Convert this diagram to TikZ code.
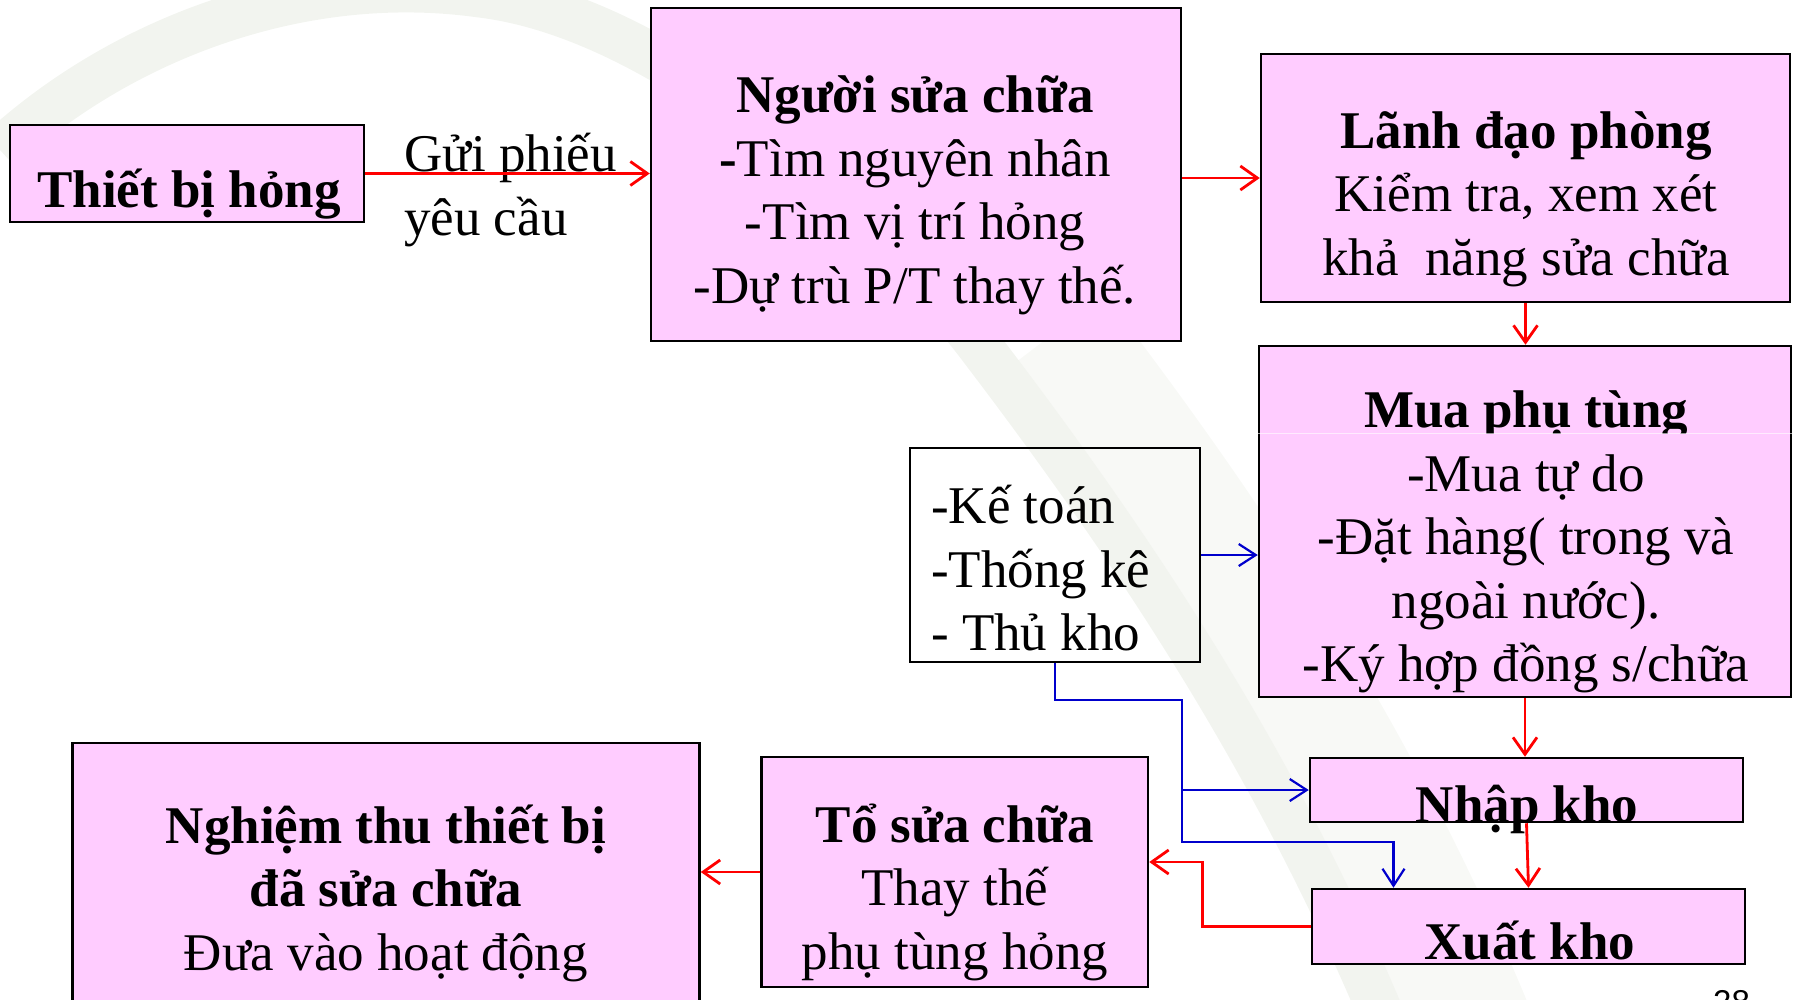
\documentclass[tikz,border=0pt]{standalone}
\usepackage{fontspec}
\setmainfont{Liberation Serif}
\newfontfamily\slidenum{Liberation Sans}
\usetikzlibrary{arrows.meta}

\definecolor{boxpink}{RGB}{255,204,255}
\definecolor{flowred}{RGB}{255,0,0}
\definecolor{flowblue}{RGB}{0,0,204}
\definecolor{swoosh}{RGB}{242,244,239}
\definecolor{swooshpale}{RGB}{248,249,246}

\tikzset{
  box/.style={draw=black, line width=2.5pt, fill=boxpink, inner sep=0pt},
  txt/.style={align=center, inner sep=0pt, font=\fontsize{53}{63.5}\selectfont,
    execute at begin node=\rule{0pt}{55pt},
    execute at end node=\rule[-55pt]{0pt}{55pt}},
  redflow/.style={draw=flowred, line width=2.8pt, -{Straight Barb[length=17pt,width=24pt]}},
  blueflow/.style={draw=flowblue, line width=2.2pt, -{Straight Barb[length=17pt,width=22pt]}},
}

\begin{document}
\begin{tikzpicture}[x=1pt,y=-1pt]
  \useasboundingbox (0,0) rectangle (1794,999);
  % faint slide background
  \draw[swooshpale, line width=150pt, xshift=70pt] (975,340) .. controls (1120,530) and (1280,760) .. (1400,1060);
  \draw[swoosh, line width=45pt] (0,150) .. controls (120,40) and (300,-30) .. (480,-5)
    .. controls (650,15) and (850,180) .. (975,340) .. controls (1120,530) and (1280,760) .. (1400,1060);

  % boxes
  \node[box, minimum width=354pt, minimum height=97pt] (broken) at (187,173.5) {};
  \node[box, minimum width=530pt, minimum height=333pt] (repairer) at (916,174.5) {};
  \node[box, minimum width=529pt, minimum height=248pt] (head) at (1525.5,178) {};
  \node[box, minimum width=532pt, minimum height=351pt] (buy) at (1525,521.5) {};
  \node[box, fill=none, minimum width=290pt, minimum height=214pt] (staff) at (1055,555) {};
  \node[box, minimum width=433pt, minimum height=64pt] (stockin) at (1526.5,790) {};
  \node[box, minimum width=433pt, minimum height=75pt] (stockout) at (1528.5,926.5) {};
  \node[box, minimum width=386.5pt, minimum height=230pt] (team) at (954.75,872) {};
  \node[box, minimum width=627pt, minimum height=270pt] (accept) at (386,878) {};

  % texts
  \node[txt] (brokentxt) at (189,207) {\textbf{Thiết bị hỏng}};
  \node[txt, align=left, anchor=west] (sendtxt) at (404,212) {Gửi phiếu\\yêu cầu};
  \node[txt] (repairertxt) at (915,217)
    {\textbf{Người sửa chữa}\\\textbf{-}Tìm nguyên nhân\\-Tìm vị trí hỏng\\-Dự trù P/T thay thế.};
  \node[txt] (headtxt) at (1526,221)
    {\textbf{Lãnh đạo phòng}\\Kiểm tra, xem xét\\khả~~năng sửa chữa};
  \node[txt] (buytxt) at (1526,564)
    {\textbf{Mua phụ tùng}\\-Mua tự do\\-Đặt hàng( trong và\\ngoài nước).\\-Ký hợp đồng s/chữa};
  % title of the buying box is cut at its foot
  \fill[boxpink] (1300,434) rectangle (1750,452);
  \draw[white, opacity=0.6, line width=0.6pt] (buy.west |- 0,433) -- (buy.east |- 0,433);
  \node[txt, align=left, anchor=west] (stafftxt) at (931,595.5) {-Kế toán\\-Thống kê\\- Thủ kho};
  \node[txt] (stockintxt) at (1527,822) {\textbf{Nhập kho}};
  \node[txt] (stockouttxt) at (1530,959) {\textbf{Xuất kho}};
  \node[txt] (teamtxt) at (955,914) {\textbf{Tổ sửa chữa}\\Thay thế\\phụ tùng hỏng};
  \node[txt] (accepttxt) at (386,915)
    {\textbf{Nghiệm thu thiết bị}\\\textbf{đã sửa chữa}\\Đưa vào hoạt động};
  \node[font=\slidenum\fontsize{33}{40}\selectfont, anchor=north west, inner sep=0pt]
    (pagenum) at (1713,990) {28};

  % red flow
  \draw[redflow] (broken.east) -- (broken.east -| repairer.west);
  \draw[redflow] (repairer.east |- head.west) -- (head.west);
  \draw[redflow] (head.south) -- (head.south |- buy.north);
  \draw[redflow] (buy.south) -- (buy.south |- stockin.north);
  \draw[redflow] (stockin.south) -- (stockout.north);
  \draw[redflow] (stockout.west) -- ++(-108,0) |- ([yshift=10pt]team.east);
  \draw[redflow] (team.west) -- (team.west -| accept.east);

  % blue flow
  \coordinate (bus) at (1182,700);
  \draw[blueflow] (staff.east) -- (staff.east -| buy.west);
  \draw[blueflow] (staff.south) |- (bus) -- (1182,842) -| ([xshift=-135pt]stockout.north);
  \draw[blueflow] (bus |- stockin.west) -- (stockin.west);
\end{tikzpicture}
\end{document}
